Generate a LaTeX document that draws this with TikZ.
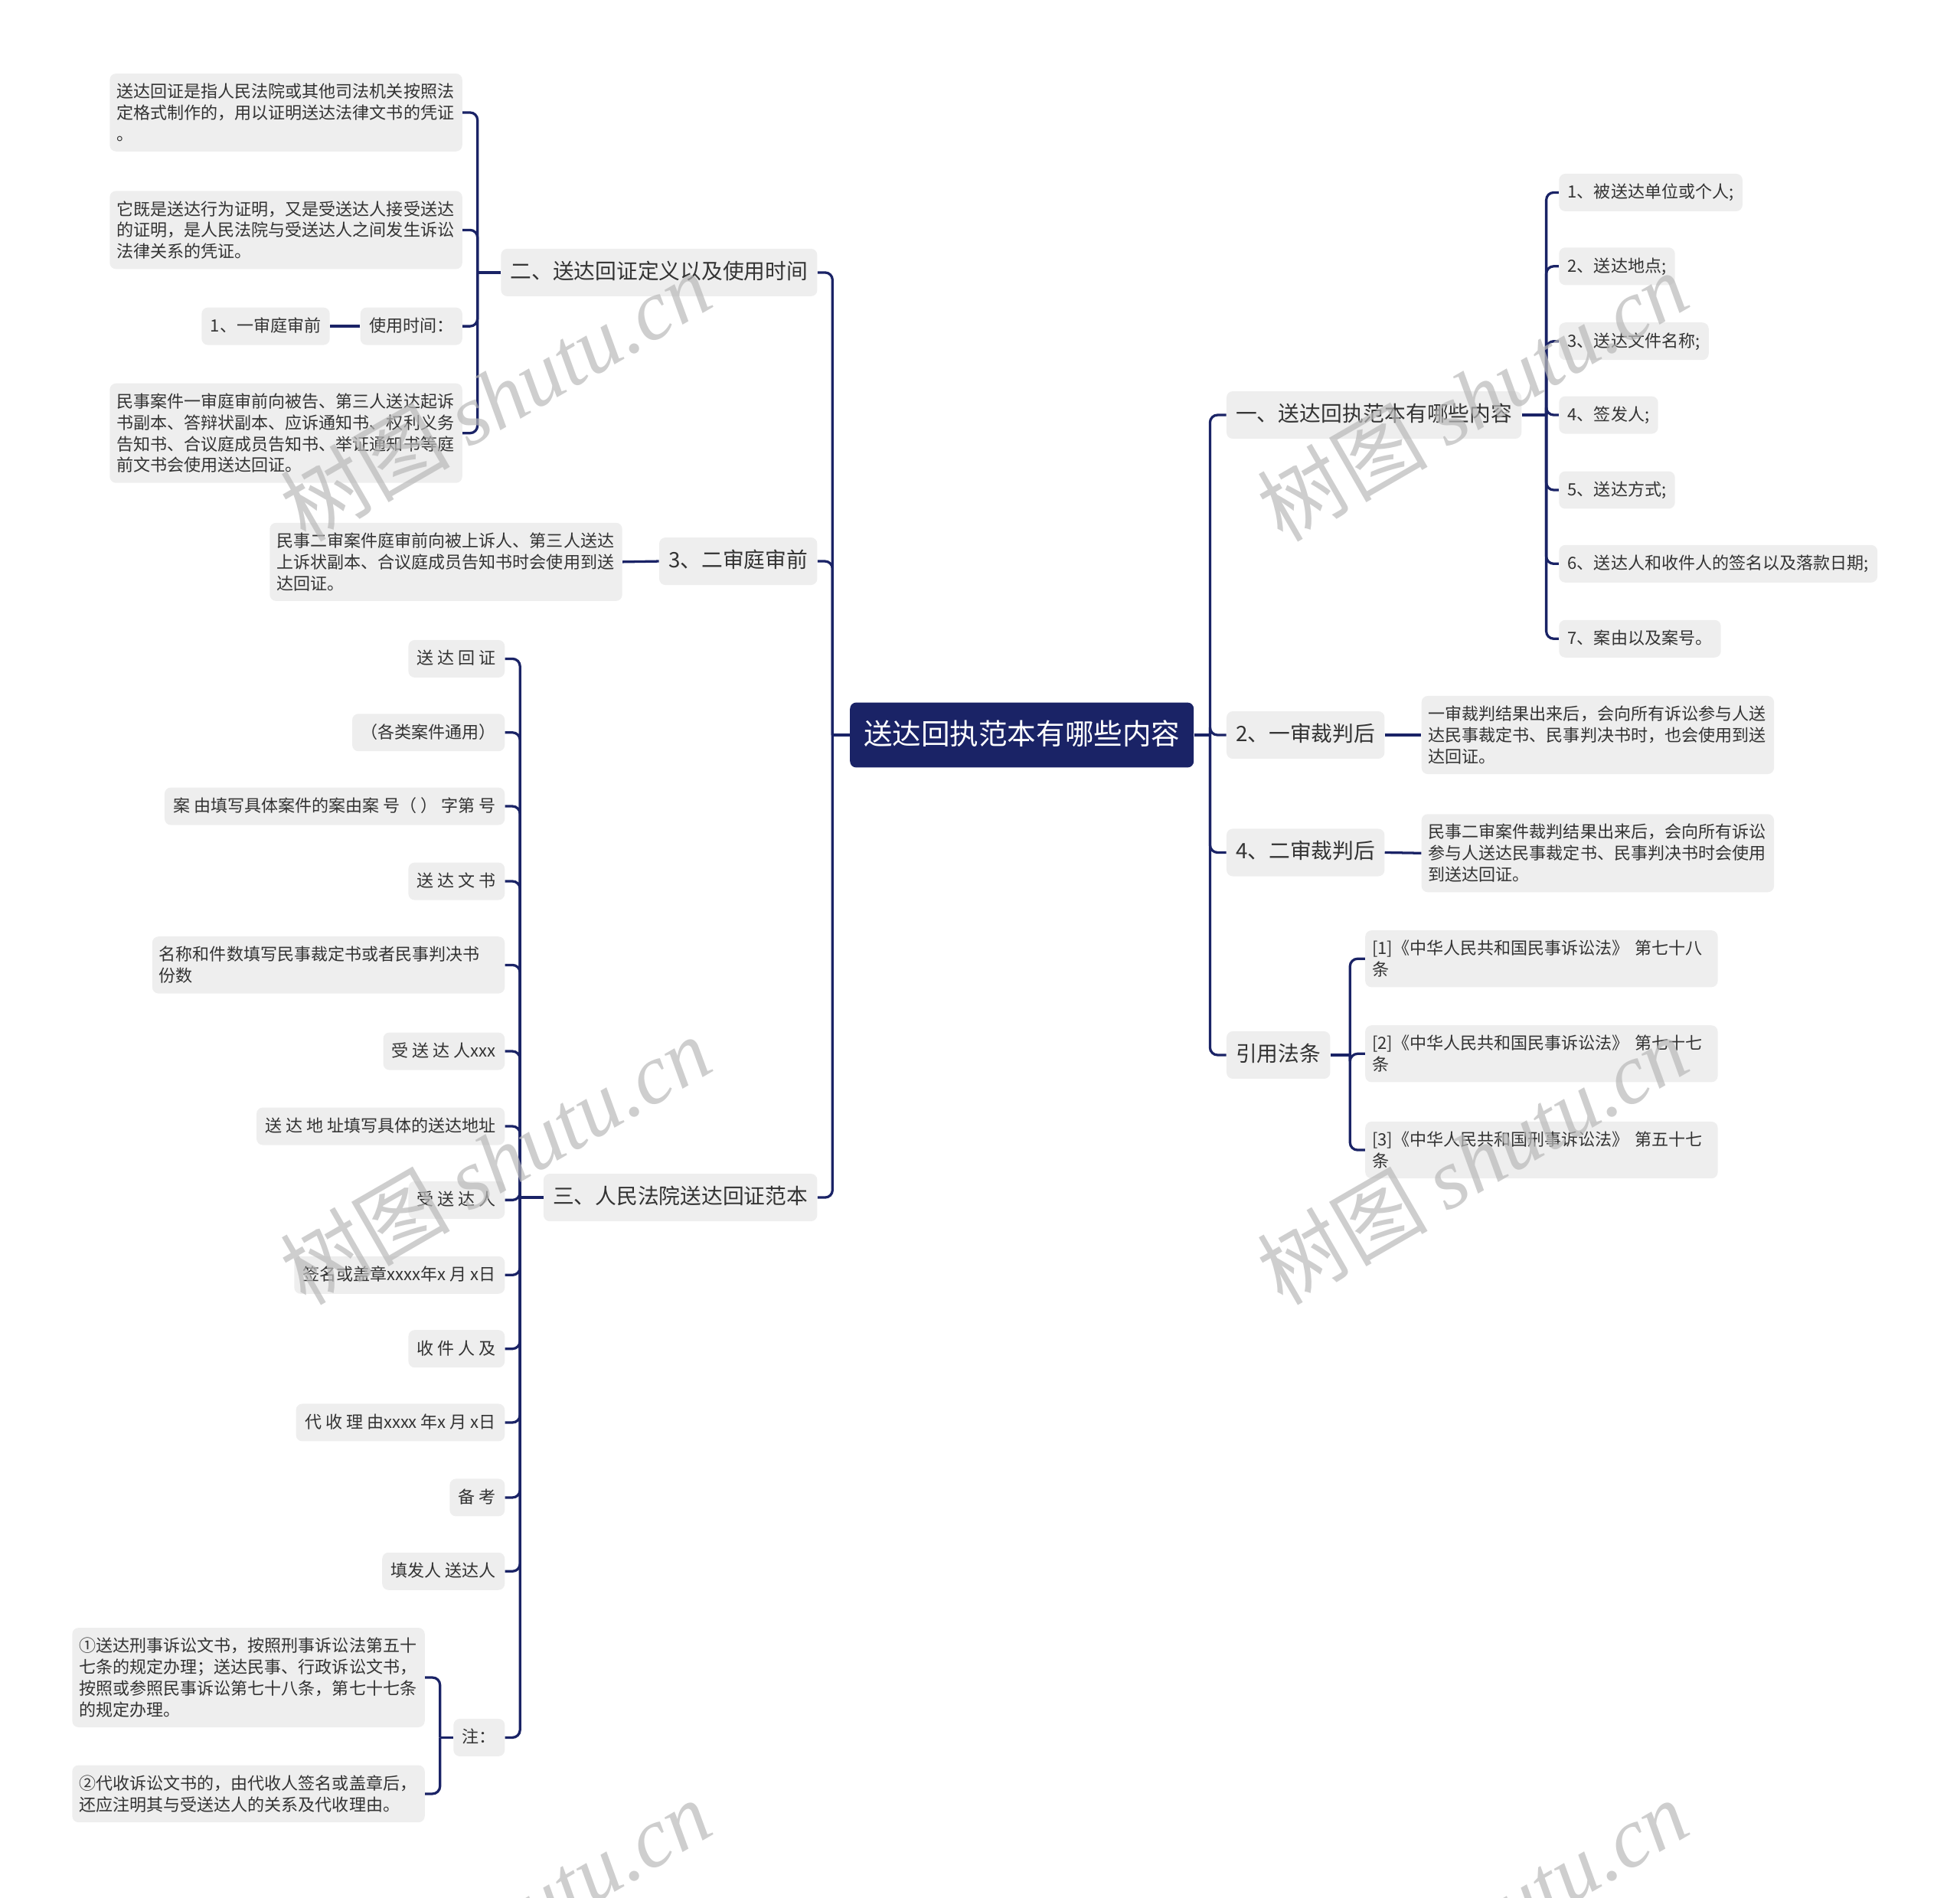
\documentclass[tikz,border=0pt]{standalone}
\usepackage{fontspec}
\setmainfont{Noto Sans CJK SC}
\newfontfamily\wmlatin{Liberation Serif}
\usetikzlibrary{calc}
\definecolor{navy}{RGB}{26,35,102}
\definecolor{boxfill}{RGB}{238,238,238}
\definecolor{txt}{RGB}{51,51,51}
\definecolor{wmc}{RGB}{185,185,185}
\tikzset{
  basebox/.style={fill=boxfill, rounded corners=5pt, text=txt, inner xsep=7pt, inner ysep=8pt},
  smallbox/.style={basebox, font=\fontsize{13.5}{17}\selectfont, text height=11.5pt, text depth=2.5pt},
  widebox/.style={basebox, font=\fontsize{13.5}{17}\selectfont, text width=271pt, align=left, inner xsep=5.5pt, inner ysep=8pt},
  lvlbox/.style={basebox, font=\fontsize{17}{20}\selectfont, text height=14pt, text depth=4pt, inner ysep=10pt, inner xsep=7.5pt},
  rootbox/.style={fill=navy, rounded corners=5pt, text=white, font=\fontsize{23}{26}\selectfont, text height=19pt, text depth=4pt, inner xsep=11pt, inner ysep=14.5pt},
  conn/.style={draw=navy, line width=2pt, rounded corners=6pt},
  wmark/.style={text=wmc, opacity=0.7, rotate=30, font=\fontsize{68}{70}\selectfont, inner sep=0pt}
}
\begin{document}
\begin{tikzpicture}[x=1pt,y=-1pt]
\useasboundingbox (0,0) rectangle (1568,1517.8);

% root
\node[rootbox] (root) at (817.5,588) {送达回执范本有哪些内容};

% trunk coordinates
\coordinate (lt) at (666,588);
\coordinate (rt) at (968,588);
\coordinate (tL1) at (382,218);
\coordinate (tL3) at (416,958);
\coordinate (tZ) at (352,1390);
\coordinate (tR1) at (1237,332);
\coordinate (tR4) at (1080,844);

% left level 1
\node[lvlbox, anchor=east] (L1) at (654,218) {二、送达回证定义以及使用时间};
\node[lvlbox, anchor=east] (L2) at (654,449) {3、二审庭审前};
\node[lvlbox, anchor=east] (L3) at (654,958) {三、人民法院送达回证范本};

% right level 1
\node[lvlbox, anchor=west] (R1) at (981,332) {一、送达回执范本有哪些内容};
\node[lvlbox, anchor=west] (R2) at (981,588) {2、一审裁判后};
\node[lvlbox, anchor=west] (R3) at (981,682) {4、二审裁判后};
\node[lvlbox, anchor=west] (R4) at (981,844) {引用法条};

% L1 children
\node[widebox, anchor=east] (d1) at (370,90) {送达回证是指人民法院或其他司法机关按照法\\定格式制作的，用以证明送达法律文书的凭证\\。};
\node[widebox, anchor=east] (d2) at (370,184) {它既是送达行为证明，又是受送达人接受送达\\的证明，是人民法院与受送达人之间发生诉讼\\法律关系的凭证。};
\node[smallbox, anchor=east] (d3) at (370,261) {使用时间：};
\node[smallbox, anchor=east] (d3a) at (264,261) {1、一审庭审前};
\node[widebox, anchor=east] (d4) at (370,346.5) {民事案件一审庭审前向被告、第三人送达起诉\\书副本、答辩状副本、应诉通知书、权利义务\\告知书、合议庭成员告知书、举证通知书等庭\\前文书会使用送达回证。};

% L2 child
\node[widebox, anchor=east] (e1) at (498,449.5) {民事二审案件庭审前向被上诉人、第三人送达\\上诉状副本、合议庭成员告知书时会使用到送\\达回证。};

% L3 children
\node[smallbox, anchor=east] (f1) at (404,527) {送 达 回 证};
\node[smallbox, anchor=east] (f2) at (404,586) {（各类案件通用）};
\node[smallbox, anchor=east] (f3) at (404,645) {案 由填写具体案件的案由案 号（ ） 字第 号};
\node[smallbox, anchor=east] (f4) at (404,705) {送 达 文 书};
\node[widebox, anchor=east] (f5) at (404,772) {名称和件数填写民事裁定书或者民事判决书\\份数};
\node[smallbox, anchor=east] (f6) at (404,841) {受 送 达 人xxx};
\node[smallbox, anchor=east] (f7) at (404,901) {送 达 地 址填写具体的送达地址};
\node[smallbox, anchor=east] (f8) at (404,960) {受 送 达 人};
\node[smallbox, anchor=east] (f9) at (404,1020) {签名或盖章xxxx年x 月 x日};
\node[smallbox, anchor=east] (f10) at (404,1079) {收 件 人 及};
\node[smallbox, anchor=east] (f11) at (404,1138) {代 收 理 由xxxx 年x 月 x日};
\node[smallbox, anchor=east] (f12) at (404,1198) {备 考};
\node[smallbox, anchor=east] (f13) at (404,1257) {填发人 送达人};
\node[smallbox, anchor=east] (f14) at (404,1390) {注：};

% notes children
\node[widebox, anchor=east] (g1) at (340,1342) {①送达刑事诉讼文书，按照刑事诉讼法第五十\\七条的规定办理；送达民事、行政诉讼文书，\\按照或参照民事诉讼第七十八条，第七十七条\\的规定办理。};
\node[widebox, anchor=east] (g2) at (340,1435) {②代收诉讼文书的，由代收人签名或盖章后，\\还应注明其与受送达人的关系及代收理由。};

% R1 children
\node[smallbox, anchor=west] (a1) at (1247,154) {1、被送达单位或个人;};
\node[smallbox, anchor=west] (a2) at (1247,213) {2、送达地点;};
\node[smallbox, anchor=west] (a3) at (1247,273) {3、送达文件名称;};
\node[smallbox, anchor=west] (a4) at (1247,332) {4、签发人;};
\node[smallbox, anchor=west] (a5) at (1247,392) {5、送达方式;};
\node[smallbox, anchor=west] (a6) at (1247,451) {6、送达人和收件人的签名以及落款日期;};
\node[smallbox, anchor=west] (a7) at (1247,511) {7、案由以及案号。};

% R2, R3 children
\node[widebox, anchor=west] (R2c) at (1137,588) {一审裁判结果出来后，会向所有诉讼参与人送\\达民事裁定书、民事判决书时，也会使用到送\\达回证。};
\node[widebox, anchor=west] (R3c) at (1137,682.5) {民事二审案件裁判结果出来后，会向所有诉讼\\参与人送达民事裁定书、民事判决书时会使用\\到送达回证。};

% R4 children
\node[widebox, anchor=west] (b1) at (1092,767) {[1]《中华人民共和国民事诉讼法》 第七十八\\条};
\node[widebox, anchor=west] (b2) at (1092,843) {[2]《中华人民共和国民事诉讼法》 第七十七\\条};
\node[widebox, anchor=west] (b3) at (1092,920) {[3]《中华人民共和国刑事诉讼法》 第五十七\\条};

% connectors: root
\draw[conn] (root.west) -- (lt);
\draw[conn] (root.east) -- (rt);
\foreach \n in {L1,L2,L3} \draw[conn] (lt) |- (\n.east);
\foreach \n in {R1,R2,R3,R4} \draw[conn] (rt) |- (\n.west);

% L1 group
\draw[conn] (L1.west) -- (tL1);
\foreach \n in {d1,d2,d3,d4} \draw[conn] (tL1) |- (\n.east);
\draw[conn] (d3.west) -- (d3a.east);

% L2
\draw[conn] (L2.west) -- (e1.east);

% L3 group
\draw[conn] (L3.west) -- (tL3);
\foreach \n in {f1,f2,f3,f4,f5,f6,f7,f8,f9,f10,f11,f12,f13,f14} \draw[conn] (tL3) |- (\n.east);

% notes
\draw[conn] (f14.west) -- (tZ);
\foreach \n in {g1,g2} \draw[conn] (tZ) |- (\n.east);

% R1 group
\draw[conn] (R1.east) -- (tR1);
\foreach \n in {a1,a2,a3,a4,a5,a6,a7} \draw[conn] (tR1) |- (\n.west);

% R2, R3
\draw[conn] (R2.east) -- (R2c.west);
\draw[conn] (R3.east) -- (R3c.west);

% R4 group
\draw[conn] (R4.east) -- (tR4);
\foreach \n in {b1,b2,b3} \draw[conn] (tR4) |- (\n.west);

% watermarks
\node[wmark] (w1) at (396,317) {树图 {\wmlatin\itshape shutu.cn}};
\node[wmark] (w2) at (1178,317) {树图 {\wmlatin\itshape shutu.cn}};
\node[wmark] (w3) at (396,928) {树图 {\wmlatin\itshape shutu.cn}};
\node[wmark] (w4) at (1178,928) {树图 {\wmlatin\itshape shutu.cn}};
\node[wmark] (w5) at (396,1539) {树图 {\wmlatin\itshape shutu.cn}};
\node[wmark] (w6) at (1178,1539) {树图 {\wmlatin\itshape shutu.cn}};
\end{tikzpicture}
\end{document}
